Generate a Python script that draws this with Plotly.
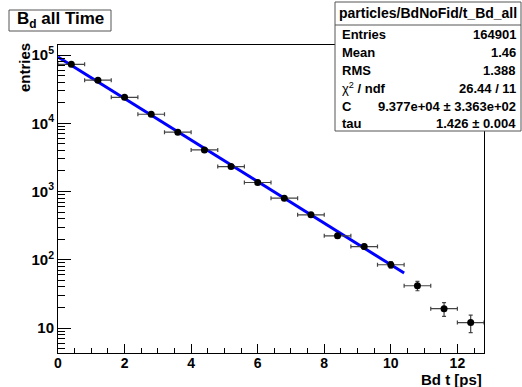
import numpy as np
import plotly.graph_objects as go

# ---- data ----
bin_centers = [0.4, 1.2, 2.0, 2.8, 3.6, 4.4, 5.2, 6.0, 6.8, 7.6, 8.4, 9.2, 10.0, 10.8, 11.6, 12.4]
entries = [73100, 42700, 24000, 13550, 7390, 4060, 2320, 1355, 798, 455, 224, 156, 84.5, 41.6, 19.2, 12.0]
bin_half_width = 0.4

fit_C = 9.377e4
fit_tau = 1.426
fit_range = [0.0, 10.4]

stat_labels = ["Entries", "Mean", "RMS", "χ<sup>2</sup> / ndf", "C", "tau"]
stat_values = ["164901", "1.46", "1.388", "26.44 / 11", "9.377e+04 ± 3.363e+02", "1.426 ± 0.004"]
stat_title = "particles/BdNoFid/t_Bd_all"
hist_title = "<b>B<sub>d</sub> all Time</b>"

y_tickvals = [10, 100, 1000, 10000, 100000]
y_ticktext = ["10", "10<sup>2</sup>", "10<sup>3</sup>", "10<sup>4</sup>", "10<sup>5</sup>"]
x_tickvals = [0, 2, 4, 6, 8, 10, 12]

# ---- geometry ----
Wd, Ht = 522, 387
L, R, T, B = 58, 484, 45, 353
PW, PH = R - L, B - T


def px(x):
    return (x - L) / PW


def py(y):
    return (B - y) / PH


FONT = "Liberation Sans, Arial, Helvetica, sans-serif"

fig = go.Figure()

# fit curve (from displayed fit parameters)
fit_x = np.array(fit_range)
fit_y = fit_C * np.exp(-fit_x / fit_tau)
fig.add_trace(go.Scatter(x=fit_x, y=fit_y, mode="lines",
                         line=dict(color="#0000ff", width=3), showlegend=False,
                         hoverinfo="skip"))

errs = np.sqrt(np.array(entries))
fig.add_trace(go.Scatter(
    x=bin_centers, y=entries, mode="markers",
    marker=dict(color="black", size=7),
    error_x=dict(type="constant", value=bin_half_width, color="#444444", thickness=1.2, width=2),
    error_y=dict(type="data", array=errs, color="#444444", thickness=1.2, width=2),
    showlegend=False))

minor_y = [m * 10 ** k for k in range(0, 6) for m in range(2, 10)]

fig.update_layout(
    width=Wd, height=Ht,
    margin=dict(l=L, r=Wd - R, t=T, b=Ht - B),
    paper_bgcolor="white", plot_bgcolor="white",
    font=dict(family=FONT, color="black"),
    xaxis=dict(range=[0, 12.8], tickvals=x_tickvals,
               ticktext=["<b>%d</b>" % v for v in x_tickvals],
               ticks="inside", ticklen=9, ticklabelstandoff=-3,
               tickcolor="black", tickwidth=1, showgrid=False, zeroline=False,
               showline=True, linecolor="black", linewidth=1, mirror=True,
               tickfont=dict(family=FONT, size=14, color="black"),
               minor=dict(dtick=0.5, tick0=0, ticks="inside", ticklen=5,
                          tickcolor="black", showgrid=False)),
    yaxis=dict(type="log", range=[0.6337, 5.1465], tickvals=y_tickvals,
               ticktext=["<b>%s</b>" % t for t in y_ticktext],
               ticks="inside", ticklen=13, tickcolor="black", tickwidth=1,
               showgrid=False, zeroline=False,
               showline=True, linecolor="black", linewidth=1, mirror=True,
               tickfont=dict(family=FONT, size=15, color="black"),
               minor=dict(tickvals=minor_y, ticks="inside", ticklen=7,
                          tickcolor="black", showgrid=False)),
)

shapes = []
annotations = []

# hist title box
shapes.append(dict(type="rect", xref="paper", yref="paper",
                   x0=px(9), x1=px(111), y0=py(31), y1=py(10),
                   line=dict(color="#555555", width=1), fillcolor="white", layer="above"))
annotations.append(dict(xref="paper", yref="paper", x=px(60), y=py(20.5),
                        text=hist_title, showarrow=False, xanchor="center", yanchor="middle",
                        font=dict(family=FONT, size=17, color="black")))

# stats box
shapes.append(dict(type="rect", xref="paper", yref="paper",
                   x0=px(335), x1=px(521), y0=py(131), y1=py(2),
                   line=dict(color="#555555", width=1), fillcolor="white", layer="above"))
shapes.append(dict(type="line", xref="paper", yref="paper",
                   x0=px(335), x1=px(521), y0=py(25), y1=py(25),
                   line=dict(color="#555555", width=1), layer="above"))
annotations.append(dict(xref="paper", yref="paper", x=px(428), y=py(13.5),
                        text="<b>%s</b>" % stat_title, showarrow=False,
                        xanchor="center", yanchor="middle",
                        font=dict(family=FONT, size=14, color="black")))
row_y0, row_dy = 35, 17.8
for i, (lab, val) in enumerate(zip(stat_labels, stat_values)):
    yy = row_y0 + i * row_dy
    annotations.append(dict(xref="paper", yref="paper", x=px(340), y=py(yy),
                            text="<b>%s</b>" % lab if i != 3 else lab.replace("/ ndf", "<b>/ ndf</b>"),
                            showarrow=False,
                            xanchor="left", yanchor="middle",
                            font=dict(family=FONT, size=13, color="black")))
    annotations.append(dict(xref="paper", yref="paper", x=px(518), y=py(yy),
                            text="<b>%s</b>" % val, showarrow=False,
                            xanchor="right", yanchor="middle",
                            font=dict(family=FONT, size=13, color="black")))

# axis titles
annotations.append(dict(xref="paper", yref="paper", x=px(484), y=py(379),
                        text="<b>Bd t [ps]</b>", showarrow=False,
                        xanchor="right", yanchor="middle",
                        font=dict(family=FONT, size=15, color="black")))
annotations.append(dict(xref="paper", yref="paper", x=px(24), y=py(68),
                        text="<b>entries</b>", showarrow=False, textangle=-90,
                        xanchor="center", yanchor="middle",
                        font=dict(family=FONT, size=15, color="black")))

fig.update_layout(shapes=shapes, annotations=annotations)
fig.write_html("out.html", config={"displayModeBar": False},
               post_script="document.body.style.margin='0';document.body.style.overflow='hidden';")
